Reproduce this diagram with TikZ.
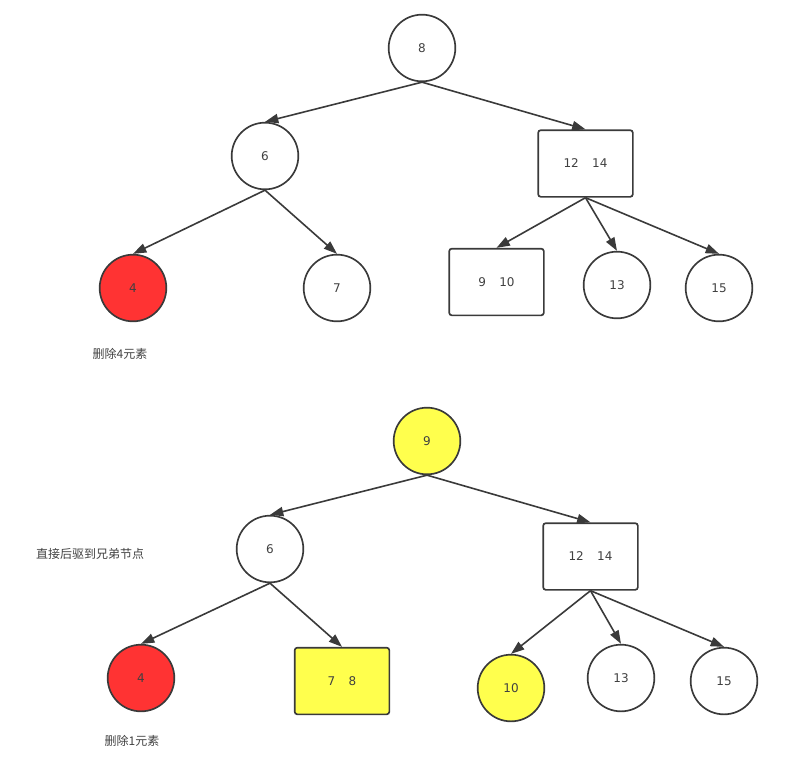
\documentclass[tikz,border=0pt]{standalone}
\usepackage{fontspec}
\setmainfont{DejaVu Sans}
\newfontfamily\cjk{Noto Sans CJK SC}
\usetikzlibrary{arrows.meta}
\definecolor{tline}{HTML}{3A3A3A}
\definecolor{tred}{HTML}{FF3333}
\definecolor{tyellow}{HTML}{FFFF4D}
\definecolor{ttext}{HTML}{404040}
\tikzset{
  keynode/.style={circle,draw=tline,line width=1.25pt,minimum size=50pt,inner sep=0pt,text=ttext,font=\fontsize{9}{11}\selectfont},
  keybox/.style={rectangle,rounded corners=2pt,draw=tline,line width=1.25pt,minimum width=71pt,minimum height=50pt,inner sep=0pt,text=ttext,font=\fontsize{9}{11}\selectfont},
  edge/.style={-{Triangle[length=10pt,width=7pt]},line width=1.2pt,tline},
  note/.style={text=ttext,font=\cjk\fontsize{9}{11}\selectfont}
}

\begin{document}
\begin{tikzpicture}[x=0.75pt,y=-0.75pt]
    \useasboundingbox (0,0) rectangle (787,768);
    % before deleting 4
    \node[keynode] (a8) at (422,48) {8};
    \node[keynode] (a6) at (265,156) {6};
    \node[keybox] (a1214) at (585.5,163.5) {12\hspace{10pt}14};
    \node[keynode,fill=tred] (a4) at (133,288) {4};
    \node[keynode] (a7) at (337,288) {7};
    \node[keybox] (a910) at (496.5,282) {9\hspace{10pt}10};
    \node[keynode] (a13) at (617,285) {13};
    \node[keynode] (a15) at (719,288) {15};
    \node[note] (del4) at (120,354) {删除4元素};
    \draw[edge] (a8.south) -- (a6.north);
    \draw[edge] (a8.south) -- (a1214.north);
    \draw[edge] (a6.south) -- (a4.north);
    \draw[edge] (a6.south) -- (a7.north);
    \draw[edge] (a1214.south) -- (a910.north);
    \draw[edge] (a1214.south) -- (a13.north);
    \draw[edge] (a1214.south) -- (a15.north);
    % after borrowing from sibling
    \node[keynode,fill=tyellow] (b9) at (427,441) {9};
    \node[keynode] (b6) at (270,549) {6};
    \node[keybox] (b1214) at (590.5,556.5) {12\hspace{10pt}14};
    \node[keynode,fill=tred] (b4) at (141,678) {4};
    \node[keybox,fill=tyellow] (b78) at (342,681) {7\hspace{10pt}8};
    \node[keynode,fill=tyellow] (b10) at (511,688) {10};
    \node[keynode] (b13) at (621,678) {13};
    \node[keynode] (b15) at (724,681) {15};
    \node[note] (borrow) at (90,554) {直接后驱到兄弟节点};
    \node[note] (del1) at (132,741) {删除1元素};
    \draw[edge] (b9.south) -- (b6.north);
    \draw[edge] (b9.south) -- (b1214.north);
    \draw[edge] (b6.south) -- (b4.north);
    \draw[edge] (b6.south) -- (b78.north);
    \draw[edge] (b1214.south) -- (b10.north);
    \draw[edge] (b1214.south) -- (b13.north);
    \draw[edge] (b1214.south) -- (b15.north);
\end{tikzpicture}
\end{document}
